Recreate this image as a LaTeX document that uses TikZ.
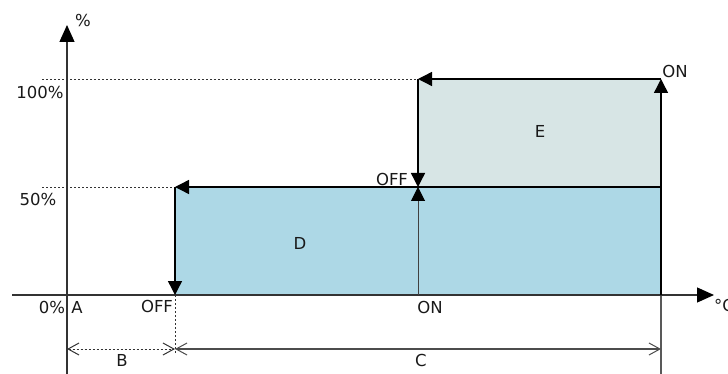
\documentclass[tikz,border=0pt]{standalone}
\usepackage{fontspec}
\setmainfont{DejaVu Sans}
\usetikzlibrary{arrows.meta}
\definecolor{dfill}{HTML}{ADD8E6}
\definecolor{efill}{HTML}{D7E5E5}
\definecolor{axisgray}{HTML}{333333}
\begin{document}
\begin{tikzpicture}[x=1pt,y=-1pt,
  lbl/.style={font=\fontsize{16.5}{18}\selectfont, text=black!90, inner sep=0pt},
  axisline/.style={draw=axisgray, line width=1.3pt},
  boxline/.style={draw=black, line width=1.4pt},
  fulltip/.style={-{Triangle[length=14pt,width=14pt,color=black]}},
  opentip/.style={{Straight Barb[length=11pt,width=12pt,line width=1pt]}-{Straight Barb[length=11pt,width=12pt,line width=1pt]}},
  dotline/.style={draw=black!80, line width=1pt, dash pattern=on 2pt off 2pt},
  gridline/.style={draw=black!80, line width=0.9pt, dash pattern=on 2pt off 2pt}]
\useasboundingbox (0,0) rectangle (728,374);
% coordinates
\coordinate (yB) at (67,374);
\coordinate (yT) at (67,25);
\coordinate (xL) at (12,295);
\coordinate (xR) at (714,295);
\coordinate (p1) at (175,295);
\coordinate (p2) at (175,187);
\coordinate (p3) at (418,187);
\coordinate (p4) at (418,79);
\coordinate (p5) at (661,79);
\coordinate (p6) at (661,295);
\coordinate (p7) at (661,187);
\coordinate (q) at (418,295);
\coordinate (g1) at (42,79);
\coordinate (g2) at (42,187);
\coordinate (d0) at (67,349);
\coordinate (d1) at (175,349);
\coordinate (d2) at (661,349);
\coordinate (v1) at (175,353);
\coordinate (v2) at (661,374);
% fills
\fill[dfill] (p1) rectangle (p7);
\fill[efill] (p3) rectangle (p5);
% grid lines
\draw[gridline] (g1) -- (p4);
\draw[gridline] (g2) -- (p2);
\draw[dotline] (p1) -- (v1);
\draw[draw=black!65, line width=1.2pt] (p6) -- (v2);
% box lines
\draw[boxline] (p3) -- (p7);
\draw[boxline] (q) -- (p6);
% axes
\draw[axisline, -{Triangle[length=17pt,width=15pt,color=black]}] (yB) -- (yT);
\draw[axisline, -{Triangle[length=17pt,width=15pt,color=black]}] (xL) -- (xR);
% arrows
\draw[boxline, fulltip] (p6) -- (p5);
\draw[boxline, fulltip] (p5) -- (p4);
\draw[boxline, fulltip] (p4) -- (p3);
\draw[draw=black!75, line width=1pt, fulltip] (q) -- (p3);
\draw[boxline, fulltip] (p7) -- (p2);
\draw[boxline, fulltip] (p2) -- (p1);
% dimension lines
\draw[dotline, opentip] (d0) -- (d1);
\draw[draw=black!70, line width=1.2pt, opentip] (d1) -- (d2);
% labels
\node[lbl] (tpct) at (83,20) {\%};
\node[lbl] (t100) at (40,92) {100\%};
\node[lbl] (t50) at (38,199) {50\%};
\node[lbl] (t0) at (52,307) {0\%};
\node[lbl] (tA) at (77,307) {A};
\node[lbl] (toff1) at (157,306) {OFF};
\node[lbl] (ton1) at (430,307) {ON};
\node[lbl] (toff2) at (392,179) {OFF};
\node[lbl] (ton2) at (675,71) {ON};
\node[lbl, anchor=west] (tdeg) at (714,305) {°C};
\node[lbl] (tB) at (122,360) {B};
\node[lbl] (tC) at (421,360) {C};
\node[lbl] (tD) at (300,243) {D};
\node[lbl] (tE) at (540,131) {E};
\end{tikzpicture}
\end{document}
